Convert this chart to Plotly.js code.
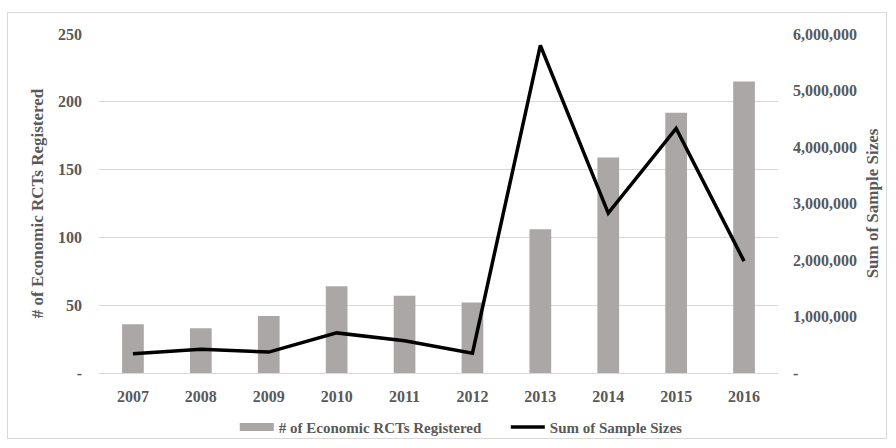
<!DOCTYPE html>
<html><head><meta charset="utf-8">
<script src="https://cdn.plot.ly/plotly-3.0.1.min.js"></script>
<style>
html,body{margin:0;padding:0;background:#fff;}
#frame{position:absolute;left:7px;top:12px;width:880px;height:427px;border:1px solid #d9d9d9;box-sizing:border-box;}
#chart{position:absolute;left:0;top:0;width:896px;height:448px;}
</style>
</head><body>
<div id="frame"></div>
<div id="chart"></div>
<script>
const years = ['2007','2008','2009','2010','2011','2012','2013','2014','2015','2016'];
const rctsRegistered = [36, 33, 42, 64, 57, 52, 106, 159, 192, 215];
const sampleSizes = [340000, 420000, 370000, 710000, 570000, 350000, 5800000, 2830000, 4330000, 1980000];
const leftTicks = [0, 50, 100, 150, 200, 250];
const leftTickText = ['-', '50', '100', '150', '200', '250'];
const rightTicks = [0, 1000000, 2000000, 3000000, 4000000, 5000000, 6000000];
const rightTickText = ['-', '1,000,000', '2,000,000', '3,000,000', '4,000,000', '5,000,000', '6,000,000'];

const fam = 'Liberation Serif, Times New Roman, serif';
const boldFont = {family: fam, color: '#595959', size: 16, weight: 'bold'};
const legendFont = {family: fam, color: '#595959', size: 15, weight: 'bold'};
const titleFont = {family: fam, color: '#595959', size: 17, weight: 'bold'};

const traces = [
  {type: 'bar', x: years, y: rctsRegistered, name: '# of Economic RCTs Registered',
   marker: {color: '#aba7a6'}, yaxis: 'y', hoverinfo: 'skip', showlegend: false},
  {type: 'scatter', mode: 'lines', x: [null], y: [null], name: '# of Economic RCTs Registered',
   line: {color: '#aba7a6', width: 8}, yaxis: 'y', hoverinfo: 'skip', showlegend: true},
  {type: 'scatter', mode: 'lines', x: years, y: sampleSizes, name: 'Sum of Sample Sizes',
   line: {color: '#000000', width: 3.5}, yaxis: 'y2', hoverinfo: 'skip'}
];

const layout = {
  width: 896, height: 448,
  paper_bgcolor: 'rgba(0,0,0,0)', plot_bgcolor: 'rgba(0,0,0,0)',
  margin: {l: 99, r: 118, t: 34, b: 75, autoexpand: false},
  font: boldFont,
  bargap: 0.68,
  showlegend: true,
  legend: {orientation: 'h', x: 0.2, xanchor: 'left', y: -0.16, yanchor: 'middle',
           font: legendFont, traceorder: 'normal', itemwidth: 34,
           entrywidth: 222, entrywidthmode: 'pixels'},
  xaxis: {type: 'category', showgrid: false, showline: false, ticks: '', automargin: false,
          tickfont: boldFont, ticklabelstandoff: 12},
  yaxis: {range: [0, 250], tickvals: leftTicks, ticktext: leftTickText, automargin: false,
          showgrid: true, gridcolor: '#d9d9d9', gridwidth: 1,
          zeroline: true, zerolinecolor: '#d9d9d9', zerolinewidth: 1,
          showline: false, ticks: '', tickfont: boldFont, ticklabelstandoff: 16,
          title: {text: '# of Economic RCTs Registered', font: titleFont, standoff: 10}},
  yaxis2: {range: [0, 6000000], overlaying: 'y', side: 'right', automargin: false,
           tickvals: rightTicks, ticktext: rightTickText,
           showgrid: false, zeroline: false, showline: false, ticks: '',
           tickfont: boldFont, ticklabelstandoff: 14,
           title: {text: 'Sum of Sample Sizes', font: titleFont, standoff: 10}}
};

Plotly.newPlot('chart', traces, layout, {displayModeBar: false, staticPlot: true});
</script>
</body></html>
